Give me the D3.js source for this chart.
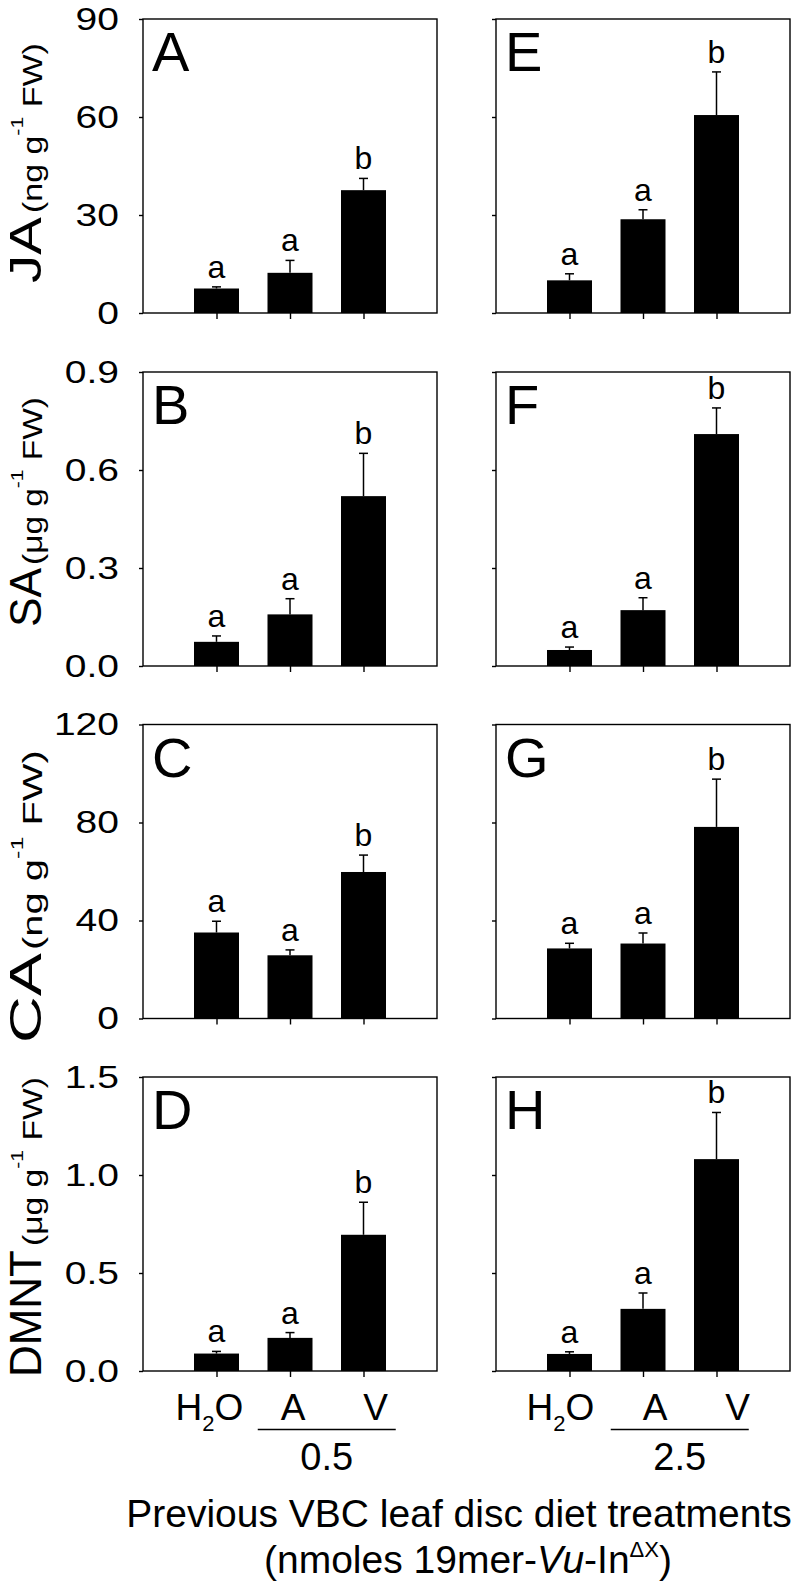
<!DOCTYPE html>
<html>
<head>
<meta charset="utf-8">
<script src="https://cdn.jsdelivr.net/npm/d3@7"></script>
<style>
  html, body { margin: 0; padding: 0; background: #fff; }
  svg { display: block; }
  text { font-family: "Liberation Sans", Arial, sans-serif; fill: #000; }
</style>
</head>
<body>
<svg id="chart" width="797" height="1590"></svg>
<script>
// ---------------- data ----------------
const categories = ["H2O", "A", "V"];
const doses = ["0.5", "2.5"];
const analytes = ["JA", "SA", "CA", "DMNT"];
const units = ["ng", "μg", "ng", "μg"];
const panelLetters = [["A", "E"], ["B", "F"], ["C", "G"], ["D", "H"]];
const yMax = [90, 0.9, 120, 1.5];
const yTicks = [[0, 30, 60, 90], [0, 0.3, 0.6, 0.9], [0, 40, 80, 120], [0, 0.5, 1.0, 1.5]];
const yTickFormat = ["d", ".1f", "d", ".1f"];

// means (dose 0.5 / dose 2.5) and standard errors
const ja05 = [7.5, 12.3, 37.6],     jaSE05 = [0.5, 3.8, 3.6];
const ja25 = [10.0, 28.7, 60.6],    jaSE25 = [2.0, 2.9, 13.2];
const sa05 = [0.074, 0.158, 0.52],  saSE05 = [0.018, 0.048, 0.131];
const sa25 = [0.049, 0.171, 0.71],  saSE25 = [0.009, 0.038, 0.08];
const ca05 = [35.1, 25.8, 59.8],    caSE05 = [4.6, 2.2, 6.9];
const ca25 = [28.6, 30.6, 78.2],    caSE25 = [2.1, 4.3, 19.5];
const dm05 = [0.089, 0.169, 0.695], dmSE05 = [0.011, 0.027, 0.166];
const dm25 = [0.087, 0.317, 1.081], dmSE25 = [0.011, 0.081, 0.238];

const sig05 = ["a", "a", "b"];
const sig25 = ["a", "a", "b"];

const means = [[ja05, ja25], [sa05, sa25], [ca05, ca25], [dm05, dm25]];
const ses = [[jaSE05, jaSE25], [saSE05, saSE25], [caSE05, caSE25], [dmSE05, dmSE25]];
const sigs = [sig05, sig25];

// ---------------- layout ----------------
const colLeft = [143, 496];
const panelW = 294;
const rowTop = [19, 372, 724.5, 1077];
const panelH = 294;
const barW = 45;
// y-title extents on the page: [word bottom, word top, unit bottom, unit top]
const titleSpan = [[283, 217, 213, 43], [627, 568, 565, 397], [1043, 953, 950, 750], [1377, 1250, 1246, 1077]];
const labelNudge = [[-7, 3, 12], [-9, 12, 21]];

const svg = d3.select("#chart");
svg.append("rect").attr("width", 797).attr("height", 1590).attr("fill", "#fff");

analytes.forEach((an, r) => {
  const y = d3.scaleLinear().domain([0, yMax[r]]).range([rowTop[r] + panelH, rowTop[r]]);

  // y-axis title: analyte word
  const sp = titleSpan[r];
  const word = svg.append("text").attr("font-size", 44).text(an);
  const ww = word.node().getComputedTextLength();
  word.attr("transform", `translate(40.5,${sp[0]}) rotate(-90) scale(${(sp[0] - sp[1]) / ww},1)`);
  // unit part
  const unit = svg.append("text").attr("font-size", 27);
  unit.append("tspan").text("(" + units[r] + " g");
  unit.append("tspan").attr("font-size", 17).attr("dy", -19).text("-1");
  unit.append("tspan").attr("dy", 19).text(" FW)");
  const uw = unit.node().getBBox().width;
  unit.attr("transform", `translate(41.5,${sp[2]}) rotate(-90) scale(${(sp[2] - sp[3]) / uw},1)`);

  doses.forEach((dose, c) => {
    const L = colLeft[c];
    const x = d3.scalePoint().domain(categories).range([L, L + panelW]).padding(1);
    const g = svg.append("g");

    // frame
    g.append("rect")
      .attr("x", L).attr("y", rowTop[r]).attr("width", panelW).attr("height", panelH)
      .attr("fill", "none").attr("stroke", "#000").attr("stroke-width", 1.4);

    // bars
    const data = categories.map((k, i) => ({ k, v: means[r][c][i], se: ses[r][c][i], s: sigs[c][i] }));
    g.selectAll("rect.bar").data(data).enter().append("rect")
      .attr("class", "bar")
      .attr("x", d => x(d.k) - barW / 2)
      .attr("y", d => y(d.v))
      .attr("width", barW)
      .attr("height", d => y(0) - y(d.v))
      .attr("fill", "#000");

    // error bars (upper)
    g.selectAll("line.err").data(data).enter().append("line")
      .attr("x1", d => x(d.k)).attr("x2", d => x(d.k))
      .attr("y1", d => y(d.v)).attr("y2", d => y(d.v + d.se))
      .attr("stroke", "#000").attr("stroke-width", 1.5);
    g.selectAll("line.cap").data(data).enter().append("line")
      .attr("x1", d => x(d.k) - 4.5).attr("x2", d => x(d.k) + 4.5)
      .attr("y1", d => y(d.v + d.se)).attr("y2", d => y(d.v + d.se))
      .attr("stroke", "#000").attr("stroke-width", 1.5);

    // significance letters
    g.selectAll("text.sig").data(data).enter().append("text")
      .attr("x", d => x(d.k))
      .attr("y", d => y(d.v + d.se) - 9)
      .attr("text-anchor", "middle")
      .attr("font-size", 32)
      .text(d => d.s);

    // panel letter
    g.append("text")
      .attr("x", L + 9).attr("y", rowTop[r] + 52)
      .attr("font-size", 56)
      .text(panelLetters[r][c]);

    // left axis
    const ya = g.append("g").attr("transform", `translate(${L},0)`)
      .call(d3.axisLeft(y).tickValues(yTicks[r]).tickSize(4).tickSizeOuter(0)
        .tickFormat(c === 0 ? d3.format(yTickFormat[r]) : ""));
    ya.select(".domain").remove();
    ya.selectAll("line").attr("stroke-width", 1.4);
    ya.selectAll("text")
      .attr("font-size", 32)
      .attr("x", -24 / 1.22)
      .attr("transform", "scale(1.22,1)");

    // bottom axis
    const xa = g.append("g").attr("transform", `translate(0,${y(0)})`)
      .call(d3.axisBottom(x).tickSize(6).tickSizeOuter(0).tickFormat(""));
    xa.select(".domain").remove();
    xa.selectAll("line").attr("stroke-width", 1.4);

    if (r === analytes.length - 1) {
      const base = y(0) + 48.5;
      categories.forEach((k, i) => {
        const tx = g.append("text")
          .attr("x", x(k) + labelNudge[c][i]).attr("y", base)
          .attr("text-anchor", "middle").attr("font-size", 37);
        if (k === "H2O") {
          tx.append("tspan").text("H");
          tx.append("tspan").attr("font-size", 22).attr("dy", 11).text("2");
          tx.append("tspan").attr("dy", -11).text("O");
        } else {
          tx.text(k);
        }
      });
      const mid = (x("A") + x("V")) / 2;
      g.append("line")
        .attr("x1", mid - 69).attr("x2", mid + 69)
        .attr("y1", y(0) + 58.5).attr("y2", y(0) + 58.5)
        .attr("stroke", "#000").attr("stroke-width", 1.4);
      g.append("text")
        .attr("x", mid).attr("y", y(0) + 98.5)
        .attr("text-anchor", "middle").attr("font-size", 38)
        .text(dose);
    }
  });
});

// bottom title
svg.append("text")
  .attr("x", 459).attr("y", 1526.5).attr("text-anchor", "middle").attr("font-size", 39)
  .text("Previous VBC leaf disc diet treatments");
const bt2 = svg.append("text")
  .attr("x", 468).attr("y", 1573).attr("text-anchor", "middle").attr("font-size", 39);
bt2.append("tspan").text("(nmoles 19mer-");
bt2.append("tspan").attr("font-style", "italic").text("Vu");
bt2.append("tspan").text("-In");
bt2.append("tspan").attr("font-size", 22).attr("dy", -16).text("ΔX");
bt2.append("tspan").attr("dy", 16).text(")");
</script>
</body>
</html>
